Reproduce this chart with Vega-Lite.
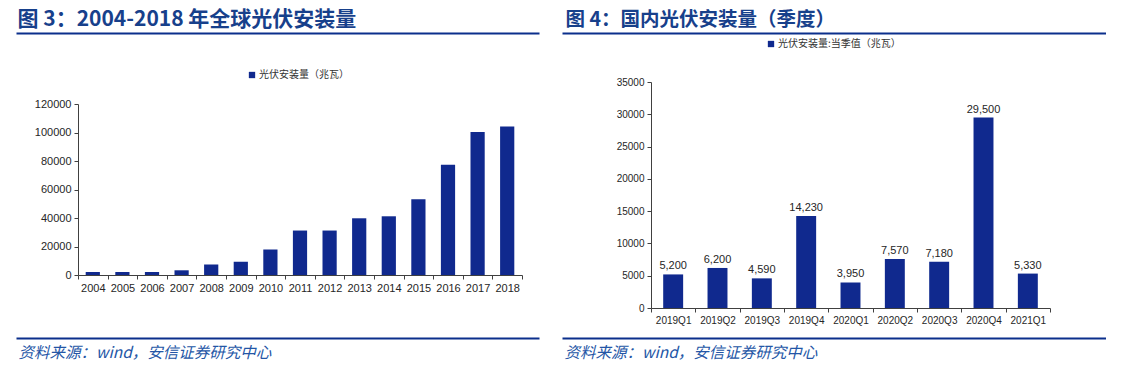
{
  "$schema": "https://vega.github.io/schema/vega-lite/v6.json",
  "background": "white",
  "padding": {"left": 16, "top": 8, "right": 0, "bottom": 0},
  "bounds": "flush",
  "spacing": 23,
  "resolve": {"scale": {"color": "independent"}, "legend": {"color": "independent"}},
  "config": {
    "view": {"stroke": null},
    "font": "Liberation Sans",
    "axis": {
      "labelColor": "#262626",
      "labelFont": "Liberation Sans",
      "domainColor": "#404040",
      "tickColor": "#404040",
      "grid": false,
      "title": null
    },
    "legend": {
      "symbolType": "square",
      "symbolSize": 40,
      "symbolStrokeWidth": 0,
      "labelFont": "Noto Sans CJK SC",
      "labelFontSize": 10,
      "labelColor": "#333333",
      "labelOffset": 2,
      "padding": 0,
      "title": null
    }
  },
  "hconcat": [
    {
      "width": 523,
      "height": 305,
      "data": {
        "values": [
          {"year": "2004", "value": 2100},
          {"year": "2005", "value": 2100},
          {"year": "2006", "value": 2100},
          {"year": "2007", "value": 3300},
          {"year": "2008", "value": 7300},
          {"year": "2009", "value": 9300},
          {"year": "2010", "value": 17900},
          {"year": "2011", "value": 31200},
          {"year": "2012", "value": 31200},
          {"year": "2013", "value": 39800},
          {"year": "2014", "value": 41200},
          {"year": "2015", "value": 53100},
          {"year": "2016", "value": 77400},
          {"year": "2017", "value": 100400},
          {"year": "2018", "value": 104200}
        ]
      },
      "resolve": {"scale": {"x": "independent"}, "axis": {"x": "independent"}},
      "layer": [
        {
          "mark": {"type": "bar", "width": {"band": 0.48}},
          "encoding": {
            "x": {
              "field": "year",
              "type": "nominal",
              "sort": null,
              "scale": {"range": [62, 506], "paddingInner": 0, "paddingOuter": 0},
              "axis": {
                "orient": "bottom",
                "offset": -63,
                "labelAngle": 0,
                "labelFontSize": 11,
                "labelPadding": 3,
                "tickBand": "extent",
                "tickSize": 4
              }
            },
            "y": {
              "field": "value",
              "type": "quantitative",
              "scale": {"domain": [0, 120000], "range": [242, 71], "nice": false},
              "axis": {
                "orient": "left",
                "offset": -62,
                "values": [0, 20000, 40000, 60000, 80000, 100000, 120000],
                "format": "d",
                "labelFontSize": 11,
                "tickSize": 4,
                "labelPadding": 3
              }
            },
            "color": {
              "datum": "光伏安装量（兆瓦）",
              "scale": {"range": ["#10298E"]},
              "legend": {"orient": "none", "legendX": 231, "legendY": 37, "direction": "horizontal"}
            }
          }
        },
        {
          "mark": {"type": "rule", "opacity": 0},
          "encoding": {
            "x": {
              "datum": 0,
              "type": "quantitative",
              "scale": {"domain": [0, 1]},
              "axis": {
                "orient": "top",
                "labels": false,
                "ticks": false,
                "domainColor": "#0B2F8C",
                "domainWidth": 2,
                "title": "图 3：2004-2018 年全球光伏安装量",
                "titleAnchor": "start",
                "titleAlign": "left",
                "titleX": 1,
                "titleY": -8,
                "titleBaseline": "alphabetic",
                "titleFont": "Noto Sans CJK SC",
                "titleFontSize": 21,
                "titleFontWeight": "bold",
                "titleColor": "#17408B"
              }
            }
          }
        },
        {
          "mark": {"type": "rule", "opacity": 0},
          "encoding": {
            "x": {
              "datum": 0,
              "type": "quantitative",
              "scale": {"domain": [0, 1]},
              "axis": {
                "orient": "bottom",
                "labels": false,
                "ticks": false,
                "domainColor": "#0B2F8C",
                "domainWidth": 2,
                "title": "资料来源：wind，安信证券研究中心",
                "titleAnchor": "start",
                "titleAlign": "left",
                "titleX": 2,
                "titleY": 19,
                "titleBaseline": "alphabetic",
                "titleFont": "Noto Sans CJK SC",
                "titleFontSize": 15.5,
                "titleFontWeight": "normal",
                "titleFontStyle": "italic",
                "titleColor": "#2456A6"
              }
            }
          }
        }
      ]
    },
    {
      "width": 544,
      "height": 305,
      "data": {
        "values": [
          {"quarter": "2019Q1", "value": 5200},
          {"quarter": "2019Q2", "value": 6200},
          {"quarter": "2019Q3", "value": 4590},
          {"quarter": "2019Q4", "value": 14230},
          {"quarter": "2020Q1", "value": 3950},
          {"quarter": "2020Q2", "value": 7570},
          {"quarter": "2020Q3", "value": 7180},
          {"quarter": "2020Q4", "value": 29500},
          {"quarter": "2021Q1", "value": 5330}
        ]
      },
      "resolve": {"scale": {"x": "independent"}, "axis": {"x": "independent"}},
      "layer": [
        {
          "encoding": {
            "x": {
              "field": "quarter",
              "type": "nominal",
              "sort": null,
              "scale": {"range": [89, 488], "paddingInner": 0, "paddingOuter": 0},
              "axis": {
                "orient": "bottom",
                "offset": -30,
                "labelAngle": 0,
                "labelFontSize": 10,
                "labelPadding": 3,
                "tickBand": "extent",
                "tickSize": 4
              }
            },
            "y": {
              "field": "value",
              "type": "quantitative",
              "scale": {"domain": [0, 35000], "range": [275, 49], "nice": false},
              "axis": {
                "orient": "left",
                "offset": -89,
                "values": [0, 5000, 10000, 15000, 20000, 25000, 30000, 35000],
                "format": "d",
                "labelFontSize": 10,
                "tickSize": 4,
                "labelPadding": 3
              }
            }
          },
          "layer": [
            {
              "mark": {"type": "bar", "width": {"band": 0.45}},
              "encoding": {
                "color": {
                  "datum": "光伏安装量:当季值（兆瓦）",
                  "scale": {"range": ["#10298E"]},
                  "legend": {"orient": "none", "legendX": 204, "legendY": 6, "direction": "horizontal"}
                }
              }
            },
            {
              "mark": {"type": "text", "baseline": "bottom", "dy": -3, "fontSize": 11, "font": "Liberation Sans", "color": "#262626"},
              "encoding": {
                "text": {"field": "value", "type": "quantitative", "format": ","}
              }
            }
          ]
        },
        {
          "mark": {"type": "rule", "opacity": 0},
          "encoding": {
            "x": {
              "datum": 0,
              "type": "quantitative",
              "scale": {"domain": [0, 1]},
              "axis": {
                "orient": "top",
                "labels": false,
                "ticks": false,
                "domainColor": "#0B2F8C",
                "domainWidth": 2,
                "title": "图 4：国内光伏安装量（季度）",
                "titleAnchor": "start",
                "titleAlign": "left",
                "titleX": 3,
                "titleY": -8,
                "titleBaseline": "alphabetic",
                "titleFont": "Noto Sans CJK SC",
                "titleFontSize": 19.5,
                "titleFontWeight": "bold",
                "titleColor": "#17408B"
              }
            }
          }
        },
        {
          "mark": {"type": "rule", "opacity": 0},
          "encoding": {
            "x": {
              "datum": 0,
              "type": "quantitative",
              "scale": {"domain": [0, 1]},
              "axis": {
                "orient": "bottom",
                "labels": false,
                "ticks": false,
                "domainColor": "#0B2F8C",
                "domainWidth": 2,
                "title": "资料来源：wind，安信证券研究中心",
                "titleAnchor": "start",
                "titleAlign": "left",
                "titleX": 2,
                "titleY": 19,
                "titleBaseline": "alphabetic",
                "titleFont": "Noto Sans CJK SC",
                "titleFontSize": 15.5,
                "titleFontWeight": "normal",
                "titleFontStyle": "italic",
                "titleColor": "#2456A6"
              }
            }
          }
        }
      ]
    }
  ]
}
